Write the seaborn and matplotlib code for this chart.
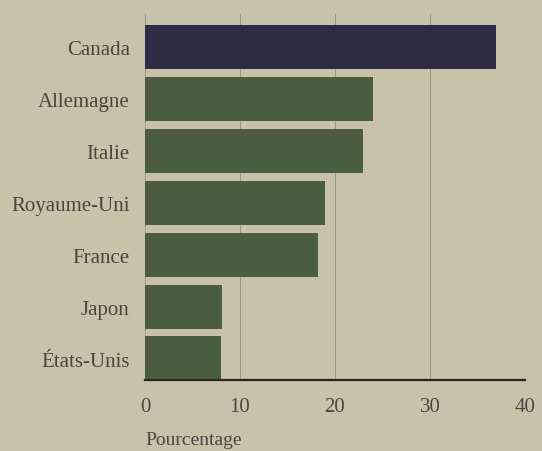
import numpy as np
import pandas as pd
import matplotlib.pyplot as plt
import seaborn as sns

# data
pays = ["Canada", "Allemagne", "Italie", "Royaume-Uni", "France", "Japon", "États-Unis"]
pourcentage = [37.0, 24.0, 23.0, 19.0, 18.2, 8.1, 8.0]
couleurs = ["#2f2d45", "#4b5e3f", "#4b5e3f", "#4b5e3f", "#4b5e3f", "#4b5e3f", "#4b5e3f"]

fond = "#c8c2aa"
texte = "#4a4540"

df = pd.DataFrame({"pays": pays, "pourcentage": pourcentage})

sns.set_style("white")
plt.rcParams['font.family'] = ['Liberation Serif', 'DejaVu Serif']

fig = plt.figure(figsize=(5.42, 4.52), dpi=100, facecolor=fond)
ax = fig.add_axes([0.2675, 0.157, 0.701, 0.81])
ax.set_facecolor(fond)

sns.barplot(data=df, x="pourcentage", y="pays", hue="pays", palette=couleurs,
            legend=False, width=0.85, saturation=1, linewidth=0, ax=ax, zorder=2)

ax.set_xlim(0, 40)
ax.set_ylim(6.415, -0.647)
ax.set_xticks([0, 10, 20, 30, 40])
for x in [0, 10, 20, 30, 40]:
    ax.axvline(x, color="#9a9485", lw=0.7, zorder=1)

for s in ["top", "right", "left"]:
    ax.spines[s].set_visible(False)
ax.spines["bottom"].set_color("#2a2622")
ax.spines["bottom"].set_linewidth(1.6)
ax.spines["bottom"].set_zorder(3)

ax.tick_params(axis="y", length=0, pad=11, labelsize=15, labelcolor=texte)
ax.tick_params(axis="x", length=0, pad=12, labelsize=15, labelcolor=texte)
ax.set_ylabel("")
ax.set_xlabel("Pourcentage", fontsize=14, color=texte, loc="left", labelpad=11)

fig.savefig("out.png", dpi=100, facecolor=fond)
